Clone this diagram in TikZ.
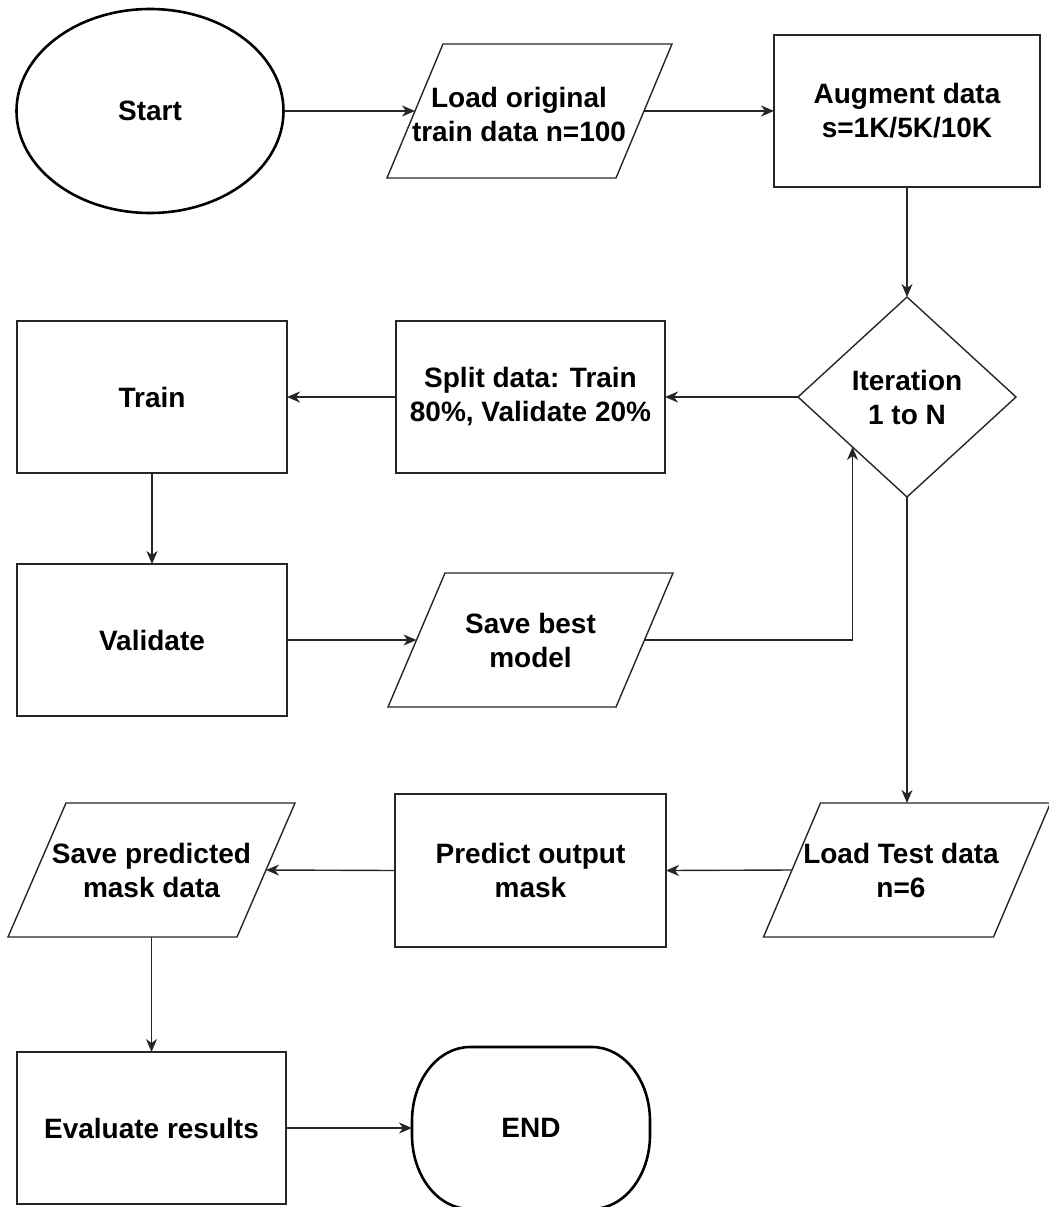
\documentclass[tikz,border=0pt]{standalone}
\usepackage{fontspec}
\setmainfont{Liberation Sans}
\usetikzlibrary{shapes.geometric,arrows.meta,calc}
\newcommand{\drawpara}[2]{\draw[thinline] ([xshift=-#2pt]#1.south west) -- ([xshift=-#2pt]#1.south east) -- ([xshift=#2pt]#1.north east) -- ([xshift=#2pt]#1.north west) -- cycle;}
\begin{document}
\begin{tikzpicture}[x=1pt,y=1pt,
  every node/.style={font=\bfseries\fontsize{28}{34}\selectfont, align=center, inner sep=0pt, outer sep=0pt},
  thinline/.style={line width=1.4pt, draw=black!85},
  thickline/.style={line width=2.6pt, draw=black},
  proc/.style={thinline, rectangle, minimum width=#1, minimum height=152pt},
  proc/.default=270pt,
  iobox/.style={rectangle, minimum width=#1, minimum height=134pt},
  iobox/.default=229pt,
  conn/.style={line width=1.4pt, draw=black!85, -{Stealth[length=13pt,width=11pt,inset=4pt]}}]
\useasboundingbox (0,0) rectangle (1049,-1207);

% nodes
\node[thickline, ellipse, minimum width=267pt, minimum height=204pt] (start) at (150,-111) {Start};
\node[iobox] (load) at (529.5,-111) {};
\node at (519,-114) {Load original\\train data n=100};
\node[proc=266pt] (aug) at (907,-111) {Augment data\\s=1K/5K/10K};
\node[thinline, diamond, minimum width=218pt, minimum height=200pt] (it) at (907,-397) {Iteration\\1 to N};
\node[proc=269pt] (split) at (530.5,-397) {Split data: Train\\80\%, Validate 20\%};
\node[proc] (train) at (152,-397) {Train};
\node[proc] (valid) at (152,-640) {Validate};
\node[iobox=228pt] (saveb) at (530.5,-640) {Save best\\model};
\node[iobox=230pt] (loadt) at (907,-870) {};
\node at (901,-870) {Load Test data\\n=6};
\node[proc=271pt, minimum height=153pt] (pred) at (530.5,-870.5) {Predict output\\mask};
\node[iobox=229pt] (savep) at (151.5,-870) {Save predicted\\mask data};
\node[proc=269pt] (eval) at (151.5,-1128) {Evaluate results};
\node[rectangle, minimum width=238pt, minimum height=162pt] (endn) at (531,-1128) {END};

% parallelogram outlines
\drawpara{load}{28}
\drawpara{saveb}{28.5}
\drawpara{loadt}{28.5}
\drawpara{savep}{29}

% terminator outline
\draw[thickline] ([xshift=58pt]endn.north west) -- ([xshift=-58pt]endn.north east)
  arc[start angle=90, end angle=0, x radius=58pt, y radius=74pt]
  -- ([yshift=74pt]endn.south east)
  arc[start angle=0, end angle=-90, x radius=58pt, y radius=74pt]
  -- ([xshift=58pt]endn.south west)
  arc[start angle=270, end angle=180, x radius=58pt, y radius=74pt]
  -- ([yshift=-74pt]endn.north west)
  arc[start angle=180, end angle=90, x radius=58pt, y radius=74pt] -- cycle;

\coordinate (itsw) at ($(it.west)!0.5!(it.south)$);

% connectors
\draw[conn] (start.east) -- (load.west);
\draw[conn] (load.east) -- (aug.west);
\draw[conn] (aug.south) -- (it.north);
\draw[conn] (it.west) -- (split.east);
\draw[conn] (split.west) -- (train.east);
\draw[conn] (train.south) -- (valid.north);
\draw[conn] (valid.east) -- (saveb.west);
\draw[conn] (saveb.east) -| (itsw);
\draw[conn] (it.south) -- (loadt.north);
\draw[conn] (loadt.west) -- (pred.east);
\draw[conn] (pred.west) -- (savep.east);
\draw[conn] (savep.south) -- (eval.north);
\draw[conn] (eval.east) -- (endn.west);
\end{tikzpicture}
\end{document}
